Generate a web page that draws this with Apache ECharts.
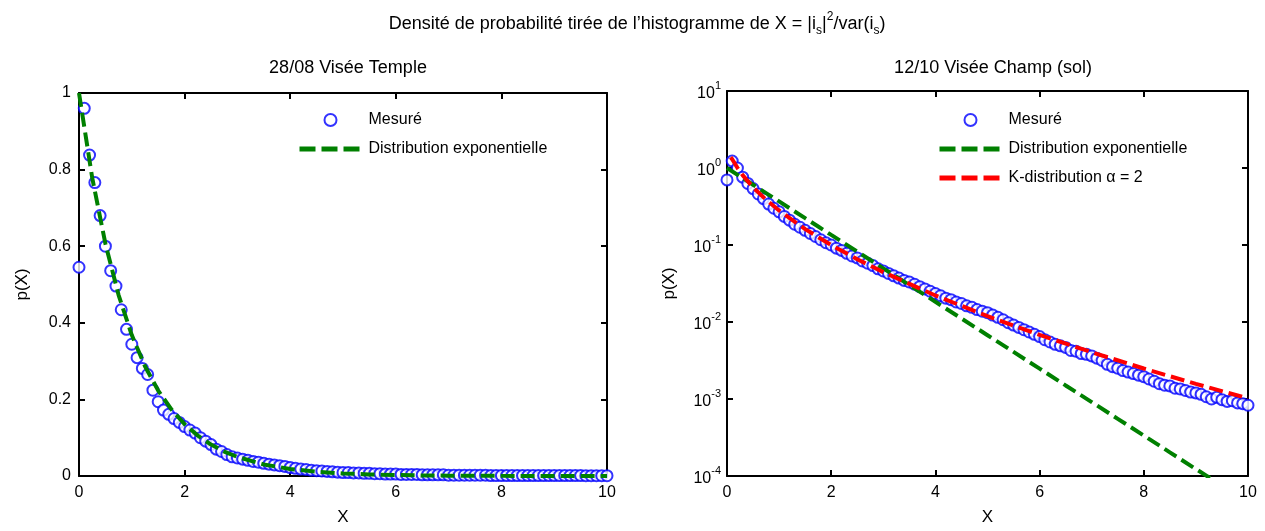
<!DOCTYPE html>
<html>
<head>
<meta charset="utf-8">
<script src="https://cdn.jsdelivr.net/npm/echarts@6/dist/echarts.min.js"></script>
<style>html,body{margin:0;padding:0;background:#fff;overflow:hidden}#c{width:1265px;height:531px}</style>
</head>
<body>
<div id="c"></div>
<script>
// ---- data ----
const xStep = 0.1; // sampling grid of the measured histograms (0 .. 10)
const leftMeasured = [
  0.545, 0.96, 0.838, 0.766, 0.68, 0.60, 0.536, 0.496, 0.434, 0.383,
  0.344, 0.309, 0.281, 0.265, 0.224, 0.194, 0.172, 0.161, 0.150, 0.140,
  0.129, 0.120, 0.112, 0.100, 0.091, 0.082, 0.070, 0.064, 0.056, 0.050,
  0.047, 0.044, 0.041, 0.038, 0.036, 0.033, 0.031, 0.029, 0.027, 0.025,
  0.022, 0.020, 0.018, 0.017, 0.015, 0.014, 0.013, 0.012, 0.011, 0.010,
  0.009, 0.009, 0.008, 0.008, 0.007, 0.007, 0.006, 0.006, 0.005, 0.005,
  0.005, 0.004, 0.004, 0.004, 0.004, 0.003, 0.003, 0.003, 0.003, 0.003,
  0.002, 0.002, 0.002, 0.002, 0.002, 0.002, 0.002, 0.002, 0.001, 0.001,
  0.001, 0.001, 0.001, 0.001, 0.001, 0.001, 0.001, 0.001, 0.001, 0.001,
  0.001, 0.001, 0.001, 0.001, 0.001, 0.001, 0.0008, 0.0008, 0.0008, 0.0008,
  0.0008
];
const expX = [0, 0.25, 0.5, 0.75, 1, 1.25, 1.5, 1.75, 2, 2.25, 2.5, 2.75, 3, 3.5, 4, 4.5, 5, 5.5, 6, 6.5, 7, 7.5, 8, 8.5, 9, 9.2, 9.5, 10];
const expY = [1, 0.7788, 0.6065, 0.4724, 0.3679, 0.2865, 0.2231, 0.1738, 0.1353, 0.1054, 0.0821, 0.0639, 0.0498, 0.0302, 0.0183, 0.0111, 0.00674, 0.00409, 0.00248, 0.00150, 0.000912, 0.000553, 0.000335, 0.000203, 0.000123, 0.000101, 0.0000749, 0.0000454];

const rightMeasured = [
  0.70, 1.23, 1.0, 0.76, 0.63, 0.54, 0.46, 0.40, 0.34, 0.30,
  0.27, 0.235, 0.21, 0.186, 0.17, 0.155, 0.141, 0.129, 0.117, 0.107,
  0.100, 0.091, 0.085, 0.078, 0.072, 0.068, 0.062, 0.058, 0.054, 0.049,
  0.046, 0.0427, 0.0398, 0.0372, 0.0347, 0.0331, 0.0309, 0.0288, 0.0269, 0.0251,
  0.0234, 0.0219, 0.0204, 0.0195, 0.0182, 0.0174, 0.0162, 0.0155, 0.0145, 0.0138,
  0.0132, 0.0123, 0.0115, 0.0107, 0.00977, 0.00912, 0.00851, 0.00794, 0.00741, 0.00692,
  0.00646, 0.00589, 0.00550, 0.00513, 0.00490, 0.00468, 0.00427, 0.00417, 0.00389, 0.00380,
  0.00363, 0.00339, 0.00316, 0.00282, 0.00263, 0.00251, 0.00234, 0.00224, 0.00214, 0.00204,
  0.00195, 0.00182, 0.00170, 0.00158, 0.00151, 0.00148, 0.00138, 0.00135, 0.00129, 0.00123,
  0.00120, 0.00115, 0.00107, 0.00100, 0.00105, 0.00098, 0.00093, 0.00095, 0.00089, 0.00087,
  0.00083
];
const kX = [0.07, 0.1, 0.2, 0.3, 0.5, 0.75, 1, 1.5, 2, 2.5, 3, 4, 5, 6, 7, 8, 9, 10];
const kY = [1.38, 1.297, 1.006, 0.808, 0.5596, 0.3866, 0.2806, 0.1608, 0.0998, 0.0654, 0.0444, 0.0221, 0.01193, 0.0068, 0.00405, 0.00249, 0.00157, 0.00102];

const names = { meas: 'Mesuré', exp: 'Distribution exponentielle', k: 'K-distribution α = 2' };

// ---- build ----
const FONT = "'Liberation Sans', Arial, sans-serif";
const pairs = (xs, ys) => ys.map((v, i) => [xs[i], v]);
const gridX = leftMeasured.map((_, i) => +(i * xStep).toFixed(1));

const axisLine = { show: true, onZero: false, lineStyle: { color: '#000', width: 2 } };
const tick = { show: true, inside: true, length: 6, lineStyle: { color: '#000', width: 2 } };
const lbl = { color: '#000', fontSize: 16, fontFamily: FONT };
const nameStyle = { color: '#000', fontSize: 17, fontFamily: FONT };

function xAx(grid, pos) {
  const bottom = pos === 'bottom';
  return {
    type: 'value', gridIndex: grid, position: pos, min: 0, max: 10, interval: 2,
    axisLine: axisLine, axisTick: tick, splitLine: { show: false },
    axisLabel: Object.assign({ show: bottom, margin: 9 }, lbl),
    name: bottom ? 'X' : '', nameLocation: 'middle', nameGap: 33, nameTextStyle: nameStyle
  };
}
function yLin(grid, pos) {
  const left = pos === 'left';
  return {
    type: 'value', gridIndex: grid, position: pos, min: 0, max: 1, interval: 0.2,
    axisLine: axisLine, axisTick: tick, splitLine: { show: false },
    axisLabel: Object.assign({ show: left, margin: 8 }, lbl),
    name: left ? 'p(X)' : '', nameLocation: 'middle', nameGap: 48, nameRotate: 90, nameTextStyle: nameStyle
  };
}
function yLog(grid, pos) {
  const left = pos === 'left';
  return {
    type: 'log', logBase: 10, gridIndex: grid, position: pos, min: 1e-4, max: 10, interval: 1,
    axisLine: axisLine, axisTick: tick, splitLine: { show: false },
    axisLabel: {
      show: left, margin: 6,
      formatter: v => '{b|10}{s|' + Math.round(Math.log10(v)) + '}',
      rich: {
        b: { fontSize: 16, fontFamily: FONT, color: '#000', lineHeight: 22, verticalAlign: 'bottom' },
        s: { fontSize: 11, fontFamily: FONT, color: '#000', lineHeight: 22, verticalAlign: 'top' }
      }
    },
    name: left ? 'p(X)' : '', nameLocation: 'middle', nameGap: 49, nameRotate: 90, nameTextStyle: nameStyle
  };
}

const scatterSeries = (xi, yi, data) => ({
  type: 'scatter', name: names.meas, xAxisIndex: xi, yAxisIndex: yi, data: data,
  symbol: 'emptyCircle', symbolSize: 11, clip: false,
  itemStyle: { color: '#0000ff', borderColor: '#0000ff', borderWidth: 2.4 }, z: 2
});
const dashLine = (name, color, xi, yi, data, z) => ({
  type: 'line', name: name, xAxisIndex: xi, yAxisIndex: yi, data: data,
  showSymbol: false, symbol: 'none', smooth: false, z: z,
  lineStyle: { color: color, width: 4, type: [14, 6] }, itemStyle: { color: color }
});
const legLine = (name, color) => ({
  name: name, itemStyle: { opacity: 0 },
  lineStyle: { color: color, width: 5, type: [16, 6], opacity: 1 }
});
const legMeas = { name: names.meas };

const option = {
  animation: false,
  backgroundColor: '#fff',
  textStyle: { fontFamily: FONT },
  title: [
    {
      text: '{n|Densité de probabilité tirée de l’histogramme de X = |i}{sub|s}{n||}{sup|2}{n|/var(i}{sub|s}{n|)}',
      left: 632, top: 6, textAlign: 'center',
      textStyle: {
        fontWeight: 'normal',
        rich: {
          n: { fontSize: 18, fontWeight: 'normal', fontFamily: FONT, color: '#000', lineHeight: 26, verticalAlign: 'middle' },
          sub: { fontSize: 12, fontWeight: 'normal', fontFamily: FONT, color: '#000', lineHeight: 26, verticalAlign: 'bottom' },
          sup: { fontSize: 12, fontWeight: 'normal', fontFamily: FONT, color: '#000', lineHeight: 26, verticalAlign: 'top' }
        }
      }
    },
    { text: '28/08 Visée Temple', left: 343, top: 54, textAlign: 'center',
      textStyle: { fontSize: 18, fontWeight: 'normal', color: '#000', fontFamily: FONT } },
    { text: '12/10 Visée Champ (sol)', left: 988, top: 54, textAlign: 'center',
      textStyle: { fontSize: 18, fontWeight: 'normal', color: '#000', fontFamily: FONT } }
  ],
  legend: [
    { orient: 'vertical', left: 297, top: 112, padding: 0, itemWidth: 62, itemHeight: 12, itemGap: 13,
      data: [legMeas, legLine(names.exp, '#008000')], selectedMode: false,
      textStyle: { fontSize: 16, color: '#000', fontFamily: FONT, padding: [0, 0, 0, 2] } },
    { orient: 'vertical', left: 937, top: 112, padding: 0, itemWidth: 62, itemHeight: 12, itemGap: 13,
      data: [legMeas, legLine(names.exp, '#008000'), legLine(names.k, '#ff0000')], selectedMode: false,
      textStyle: { fontSize: 16, color: '#000', fontFamily: FONT, padding: [0, 0, 0, 2] } }
  ],
  grid: [
    { left: 79, top: 93, width: 528, height: 389 },
    { left: 727, top: 91, width: 521, height: 393 }
  ],
  xAxis: [xAx(0, 'bottom'), xAx(0, 'top'), xAx(1, 'bottom'), xAx(1, 'top')],
  yAxis: [yLin(0, 'left'), yLin(0, 'right'), yLog(1, 'left'), yLog(1, 'right')],
  series: [
    scatterSeries(0, 0, pairs(gridX, leftMeasured)),
    dashLine(names.exp, '#008000', 0, 0, pairs(expX, expY), 3),
    scatterSeries(2, 2, pairs(gridX, rightMeasured)),
    dashLine(names.exp, '#008000', 2, 2, pairs(expX, expY), 3),
    dashLine(names.k, '#ff0000', 2, 2, pairs(kX, kY), 4)
  ]
};
const chart = echarts.init(document.getElementById('c'), null, { renderer: 'canvas' });
chart.setOption(option);
</script>
</body>
</html>
